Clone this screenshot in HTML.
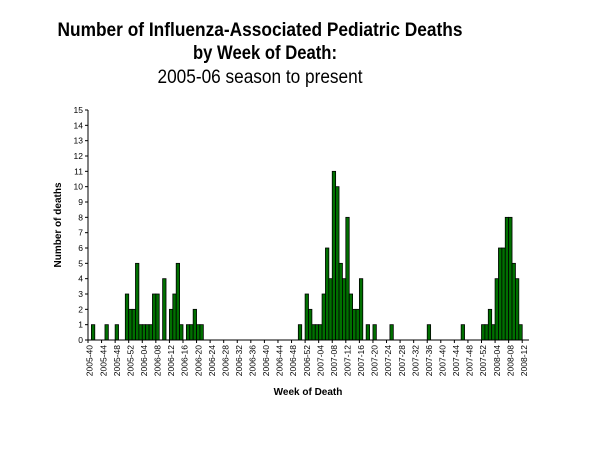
<!DOCTYPE html>
<html><head><meta charset="utf-8"><style>
body{margin:0;background:#fff}
svg{display:block;font-family:"Liberation Sans",Arial,sans-serif}
</style></head><body>
<svg id="chart" width="600" height="450" viewBox="0 0 600 450">
<text x="260" y="36" text-anchor="middle" font-size="19" font-weight="bold" textLength="405" lengthAdjust="spacingAndGlyphs">Number of Influenza-Associated Pediatric Deaths</text>
<text x="265" y="59" text-anchor="middle" font-size="19" font-weight="bold" textLength="144" lengthAdjust="spacingAndGlyphs">by Week of Death:</text>
<text x="260" y="83" text-anchor="middle" font-size="19" textLength="205" lengthAdjust="spacingAndGlyphs">2005-06 season to present</text>
<text transform="translate(61,225) rotate(-90)" text-anchor="middle" font-size="10" font-weight="bold">Number of deaths</text>
<text x="308" y="395" text-anchor="middle" font-size="10" font-weight="bold">Week of Death</text>
<g id="plot"></g>
</svg>
<script>
const yTicks=[0,1,2,3,4,5,6,7,8,9,10,11,12,13,14,15];
const weekIndex=[1,5,8,11,12,13,14,15,16,17,18,19,20,22,24,25,26,27,29,30,31,32,33,
62,64,65,66,67,68,69,70,71,72,73,74,75,76,77,78,79,80,82,84,89,
100,110,116,117,118,119,120,121,122,123,124,125,126,127];
const deaths=[1,1,1,3,2,2,5,1,1,1,1,3,3,4,2,3,5,1,1,1,2,1,1,
1,3,2,1,1,1,3,6,4,11,10,5,4,8,3,2,2,4,1,1,1,
1,1,1,1,2,1,4,6,6,8,8,5,4,1];
const nWeeks=130;
const tickLabels=[];
(function(){let y=2005,w=40;for(let i=0;i<nWeeks;i++){if(i%4===0)tickLabels.push({i:i,t:y+"-"+String(w).padStart(2,"0")});w++;if(w>52){w=1;y++;}}})();
const X0=88,X1=529,Y0=340,Y1=110,YMAX=15;
const bw=(X1-X0)/nWeeks;
function xs(i){return X0+i*bw;}
function ys(v){return Y0-(Y0-Y1)*v/YMAX;}
const NS="http://www.w3.org/2000/svg";
const g=document.getElementById("plot");
function mk(t,a){const e=document.createElementNS(NS,t);for(const k in a)e.setAttribute(k,a[k]);g.appendChild(e);return e;}
for(let k=0;k<weekIndex.length;k++){
 const r=mk("rect",{x:xs(weekIndex[k]),y:ys(deaths[k]),width:bw,height:Y0-ys(deaths[k]),fill:"#007000",stroke:"#000","stroke-width":"0.8"});
 
 
}
const ya=mk("line",{x1:X0,y1:Y1,x2:X0,y2:Y0,stroke:"#000","stroke-width":"1"});


const xa=mk("line",{x1:X0,y1:Y0,x2:X1,y2:Y0,stroke:"#000","stroke-width":"1"});


yTicks.forEach(v=>{
 mk("line",{x1:X0-3,y1:ys(v),x2:X0,y2:ys(v),stroke:"#000"});
 const t=mk("text",{x:X0-5,y:ys(v)+3,"text-anchor":"end","font-size":"8.5"});
 t.textContent=v;
 
 
});
tickLabels.forEach(o=>{
 const cx=xs(o.i)+bw/2;
 mk("line",{x1:xs(o.i),y1:Y0,x2:xs(o.i),y2:Y0+3,stroke:"#000"});
 const t=mk("text",{transform:"translate("+(cx+3)+","+(Y0+5)+") rotate(-90)","text-anchor":"end","font-size":"8.5"});
 t.textContent=o.t;
 
 
});
</script>
</body></html>
